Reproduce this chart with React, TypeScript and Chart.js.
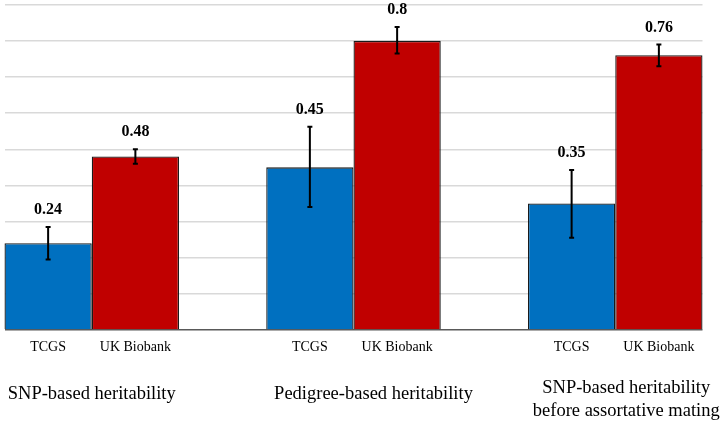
import React, { useEffect, useRef } from "react";
import { Chart, registerables } from "chart.js";

Chart.register(...registerables);

const categories = [
  ["SNP-based heritability"],
  ["Pedigree-based heritability"],
  ["SNP-based heritability", "before assortative mating"],
];
const seriesNames = ["TCGS", "UK Biobank"];
const tcgsValues = [0.24, 0.45, 0.35];
const ukValues = [0.48, 0.8, 0.76];
const tcgsLow = [0.195, 0.34, 0.255];
const tcgsHigh = [0.285, 0.562, 0.443];
const ukLow = [0.46, 0.765, 0.73];
const ukHigh = [0.5, 0.838, 0.79];
const yTicks = [0, 0.1, 0.2, 0.3, 0.4, 0.5, 0.6, 0.7, 0.8, 0.9];

const SERIF = "'Liberation Serif', 'Times New Roman', serif";
const categoryNudge = [0, 20, 11];

const annotate = {
  id: "annotate",
  afterDatasetsDraw(chart: any) {
    const { ctx, chartArea, scales } = chart;
    const y = scales.y;
    const x = scales.x;
    const lows = [tcgsLow, ukLow];
    const highs = [tcgsHigh, ukHigh];
    const vals = [tcgsValues, ukValues];
    ctx.save();
    chart.data.datasets.forEach((ds: any, di: number) => {
      const meta = chart.getDatasetMeta(di);
      meta.data.forEach((bar: any, i: number) => {
        const yl = y.getPixelForValue(lows[di][i]);
        const yh = y.getPixelForValue(highs[di][i]);
        const bx = bar.x;
        ctx.strokeStyle = "#000";
        ctx.lineWidth = 2;
        ctx.beginPath();
        ctx.moveTo(bx, yl);
        ctx.lineTo(bx, yh);
        ctx.moveTo(bx - 2.5, yl);
        ctx.lineTo(bx + 2.5, yl);
        ctx.moveTo(bx - 2.5, yh);
        ctx.lineTo(bx + 2.5, yh);
        ctx.stroke();
        ctx.fillStyle = "#000";
        ctx.font = `bold 16px ${SERIF}`;
        ctx.textAlign = "center";
        ctx.textBaseline = "middle";
        ctx.fillText(String(vals[di][i]), bx, yh - 17);
        ctx.font = `14px ${SERIF}`;
        ctx.fillText(seriesNames[di], bx, chartArea.bottom + 17);
      });
    });
    ctx.font = `18.5px ${SERIF}`;
    ctx.textAlign = "center";
    ctx.textBaseline = "middle";
    ctx.fillStyle = "#000";
    categories.forEach((lines, i) => {
      const cx = x.getPixelForValue(i) + categoryNudge[i];
      const startY = chartArea.bottom + 64 - (lines.length - 1) * 5.5;
      lines.forEach((ln, li) => {
        ctx.fillText(ln, cx, startY + li * 22.4);
      });
    });
    ctx.restore();
  },
};

export default function App() {
  const ref = useRef<HTMLCanvasElement>(null);
  useEffect(() => {
    if (!ref.current) return;
    const chart = new Chart(ref.current, {
      type: "bar",
      data: {
        datasets: [
          {
            label: seriesNames[0],
            data: tcgsValues.map((v, i) => ({ x: i, y: v })),
            backgroundColor: "#0070C0",
            borderColor: "#1a1a1a",
            borderWidth: 1.3,
            clip: false as any,
          },
          {
            label: seriesNames[1],
            data: ukValues.map((v, i) => ({ x: i, y: v })),
            backgroundColor: "#C00000",
            borderColor: "#1a1a1a",
            borderWidth: 1.3,
            clip: false as any,
          },
        ],
      },
      options: {
        responsive: false,
        animation: false,
        devicePixelRatio: 1,
        categoryPercentage: 0.6667,
        barPercentage: 1,
        layout: { padding: { left: 4.5, right: 21.5, top: 4.7, bottom: 95 } },
        plugins: { legend: { display: false }, tooltip: { enabled: false } },
        scales: {
          x: {
            type: "linear",
            offset: false,
            min: -1 / 3,
            max: categories.length - 1 + 1 / 3,
            display: false,
            afterBuildTicks: (s: any) => {
              s.ticks = categories.map((_, i) => ({ value: i }));
            },
          },
          y: {
            min: yTicks[0],
            max: yTicks[yTicks.length - 1],
            afterBuildTicks: (s: any) => {
              s.ticks = yTicks.map((v) => ({ value: v }));
            },
            ticks: { display: false },
            border: { display: false },
            grid: {
              drawTicks: false,
              tickLength: 0,
              lineWidth: 1.5,
              color: (c: any) => (c.tick && c.tick.value === 0 ? "#595959" : "#d9d9d9"),
            },
          },
        },
      } as any,
      plugins: [annotate],
    });
    return () => chart.destroy();
  }, []);
  return (
    <div style={{ position: "absolute", left: 0, top: 0, width: 724, height: 425, background: "#fff" }}>
      <canvas ref={ref} width={724} height={425} />
    </div>
  );
}
